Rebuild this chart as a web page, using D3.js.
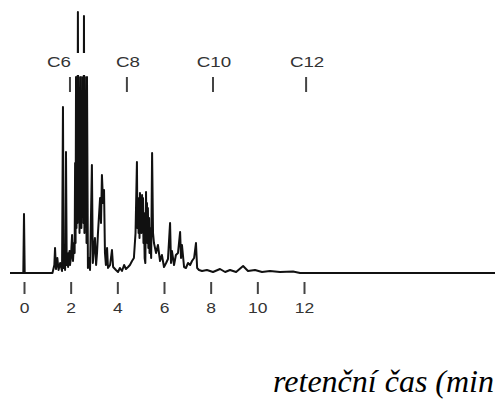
<!DOCTYPE html>
<html>
<head>
<meta charset="utf-8">
<script src="https://cdn.jsdelivr.net/npm/d3@7"></script>
<style>
  body { margin: 0; background: #fff; }
  svg { display: block; }
</style>
</head>
<body>
<div id="wrapper"></div>
<script>
// retention time (min) and detector signal
const times = [
  -0.6, -0.03, 0, 0.03, 1.22, 1.30, 1.33, 1.37, 1.43, 1.48, 1.55, 1.63, 1.67, 1.70,
  1.74, 1.76, 1.78, 1.80, 1.83, 1.86, 1.89, 1.91, 1.93, 1.95, 1.97, 2.01, 2.06, 2.10,
  2.14, 2.17, 2.19, 2.21, 2.23, 2.25, 2.27, 2.29, 2.31, 2.33, 2.35, 2.38, 2.40, 2.42,
  2.44, 2.46, 2.49, 2.51, 2.53, 2.55, 2.57, 2.59, 2.61, 2.63, 2.66, 2.68, 2.70, 2.74,
  2.79, 2.83, 2.91, 2.95, 3.00, 3.04, 3.09, 3.13, 3.17, 3.26, 3.30, 3.34, 3.39, 3.43,
  3.47, 3.51, 3.56, 3.60, 3.69, 3.77, 3.82, 3.94, 4.03, 4.11, 4.20, 4.29, 4.37, 4.46,
  4.54, 4.63, 4.71, 4.78, 4.84, 4.86, 4.89, 4.91, 4.93, 4.95, 4.97, 4.99, 5.01, 5.03,
  5.06, 5.08, 5.10, 5.12, 5.14, 5.17, 5.20, 5.23, 5.25, 5.27, 5.29, 5.31, 5.33, 5.36,
  5.38, 5.40, 5.45, 5.49, 5.53, 5.57, 5.66, 5.74, 5.83, 5.91, 6.00, 6.09, 6.17, 6.26,
  6.30, 6.34, 6.43, 6.51, 6.60, 6.69, 6.73, 6.77, 6.86, 6.94, 7.03, 7.12, 7.20, 7.29,
  7.37, 7.42, 7.50, 7.63, 7.84, 8.10, 8.40, 8.62, 8.83, 9.09, 9.39, 9.60, 9.90, 10.20,
  10.54, 10.97, 11.53, 11.83, 20.2
];
const signal = [
  0, 0, 59, 0, 0, 8, 25, 4, 15, 3, 10, 2, 166, 5,
  12, 3, 20, 121, 8, 18, 6, 20, 10, 22, 8, 15, 38, 12,
  30, 20, 110, 30, 196, 45, 166, 50, 261, 60, 196, 40, 166, 55,
  196, 45, 170, 60, 196, 50, 257, 40, 196, 60, 166, 30, 196, 5,
  15, 3, 108, 10, 25, 35, 8, 20, 40, 75, 50, 98, 70, 83,
  20, 8, 25, 5, 8, 23, 6, 3, 1, 5, 2, 8, 4, 6,
  8, 12, 15, 40, 111, 45, 75, 40, 70, 35, 80, 45, 72, 40,
  78, 42, 75, 30, 60, 15, 10, 81, 35, 70, 30, 65, 25, 55,
  20, 45, 15, 120, 40, 30, 20, 28, 12, 18, 6, 10, 14, 50,
  10, 22, 8, 18, 20, 41, 15, 28, 6, 5, 10, 8, 12, 15,
  30, 5, 3, 2, 3, 1, 4, 1, 3, 1, 7, 2, 3, 1,
  2, 1, 1.5, 0, 0
];
const xTicks = [0, 2, 4, 6, 8, 10, 12];
const markerNames = ["C6", "C8", "C10", "C12"];
const markerTimes = [1.97, 4.41, 8.10, 12.09];
const axisTitle = "retenční čas (min";

const width = 495, height = 403;

const svg = d3.select("#wrapper").append("svg")
  .attr("width", width)
  .attr("height", height);

const x = d3.scaleLinear().domain([0, 12]).range([24, 304]);
const y = d3.scaleLinear().domain([0, 263]).range([273, 10]);

const trace = times.map((t, i) => [t, signal[i]]);

const line = d3.line()
  .x(d => x(d[0]))
  .y(d => y(d[1]));

svg.append("path")
  .attr("d", line(trace))
  .attr("fill", "none")
  .attr("stroke", "#111")
  .attr("stroke-width", 2)
  .attr("stroke-linejoin", "round");

// white band behind the marker labels cuts the tall peaks
svg.append("rect")
  .attr("x", 0).attr("y", 53)
  .attr("width", width).attr("height", 22)
  .attr("fill", "#fff");

// bottom time axis
const xAxis = svg.append("g")
  .attr("transform", "translate(0,282)")
  .call(d3.axisBottom(x).tickValues(xTicks).tickSize(12).tickPadding(9));
xAxis.select(".domain").remove();
xAxis.selectAll("line").attr("stroke", "#444").attr("stroke-width", 2);
xAxis.selectAll("text")
  .attr("fill", "#333")
  .attr("font-family", "Liberation Sans, Arial, sans-serif")
  .attr("font-size", 14)
  .attr("transform", "scale(1.25,1)");

// alkane markers
const markers = svg.append("g");
markers.selectAll("line")
  .data(markerTimes)
  .join("line")
  .attr("x1", d => x(d)).attr("x2", d => x(d))
  .attr("y1", 77).attr("y2", 92)
  .attr("stroke", "#444")
  .attr("stroke-width", 2);
markers.selectAll("text")
  .data(markerNames)
  .join("text")
  .attr("transform", (d, i) => `translate(${x(markerTimes[i]) + (d === "C6" ? -11 : 1)},67) scale(1.25,1)`)
  .attr("text-anchor", "middle")
  .attr("fill", "#333")
  .attr("font-family", "Liberation Sans, Arial, sans-serif")
  .attr("font-size", 15)
  .text(d => d);

svg.append("text")
  .attr("x", 494)
  .attr("y", 392)
  .attr("text-anchor", "end")
  .attr("font-family", "Liberation Serif")
  .attr("font-style", "italic")
  .attr("font-size", 32)
  .attr("fill", "#000")
  .text(axisTitle);
</script>
</body>
</html>
